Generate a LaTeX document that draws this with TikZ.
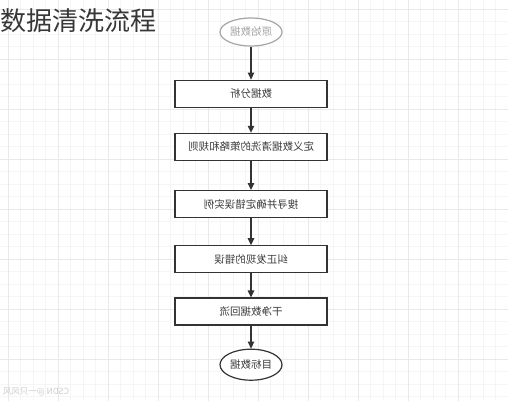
\documentclass[tikz,border=0pt]{standalone}
\usepackage{fontspec}
\setmainfont{Noto Sans CJK SC}
\usepackage{graphicx}
\usetikzlibrary{shapes.geometric,arrows.meta,positioning}
\definecolor{linecolor}{RGB}{51,51,51}
\definecolor{textcolor}{RGB}{60,60,60}
\definecolor{titlecolor}{RGB}{55,55,55}
\definecolor{fadecolor}{RGB}{165,165,165}
\definecolor{markcolor}{RGB}{205,205,205}
\definecolor{gridminor}{RGB}{245,245,245}
\definecolor{gridmajor}{RGB}{233,233,233}
\newcommand{\flip}[1]{\reflectbox{#1}}

\begin{document}
\begin{tikzpicture}[
    x=1pt, y=1pt,
    node distance=26pt,
    every node/.style={font=\fontsize{10.5}{12}\selectfont, text=textcolor},
    terminal/.style={ellipse, draw=linecolor, line width=1.2pt, fill=white, minimum width=62pt, minimum height=31pt, inner sep=0pt},
    ghost/.style={terminal, draw=fadecolor, text=fadecolor, minimum height=28pt},
    process/.style={rectangle, draw=linecolor, line width=1.2pt, fill=white, minimum width=152pt, minimum height=27pt, inner sep=0pt},
    arrow/.style={-{Triangle[length=7pt,width=6.5pt]}, line width=1.2pt, draw=linecolor}
]
\useasboundingbox (0,0) rectangle (508,-400);
\fill[white] (0,0) rectangle (508,-400);

% background grid
\begin{scope}
\clip (0,0) rectangle (508,-400);
\draw[gridminor, line width=0.6pt, step=12.5, shift={(8,-9)}] (-20,20) grid (520,-420);
\draw[gridmajor, line width=0.6pt, step=50, shift={(8,-9)}] (-20,20) grid (520,-420);
\end{scope}

% Title
\node[anchor=west, inner sep=0pt, font=\fontsize{26}{29}\selectfont, text=titlecolor] (title) at (0,-21) {数据清洗流程};

% Start
\node[ghost] (source) at (251,-32) {\flip{原始数据}};

% Steps
\node[process, below=33pt of source] (analyse) {\flip{数据分析}};
\node[process, below=25pt of analyse] (rules) {\flip{定义数据清洗的策略和规则}};
\node[process, below=29pt of rules] (search) {\flip{搜寻并确定错误实例}};
\node[process, below=27pt of search] (correct) {\flip{纠正发现的错误}};
\node[process, below=24pt of correct] (backflow) {\flip{干净数据回流}};

% End
\node[terminal, below=23pt of backflow] (target) {\flip{目标数据}};

% Watermark
\node[font=\fontsize{8.5}{10}\selectfont, text=markcolor, inner sep=0pt] (mark) at (36,-392) {\flip{CSDN @一只风风}};

% Arrows
\draw[arrow] (source) -- (analyse);
\draw[arrow] (analyse) -- (rules);
\draw[arrow] (rules) -- (search);
\draw[arrow] (search) -- (correct);
\draw[arrow] (correct) -- (backflow);
\draw[arrow] (backflow) -- (target);

\end{tikzpicture}
\end{document}
